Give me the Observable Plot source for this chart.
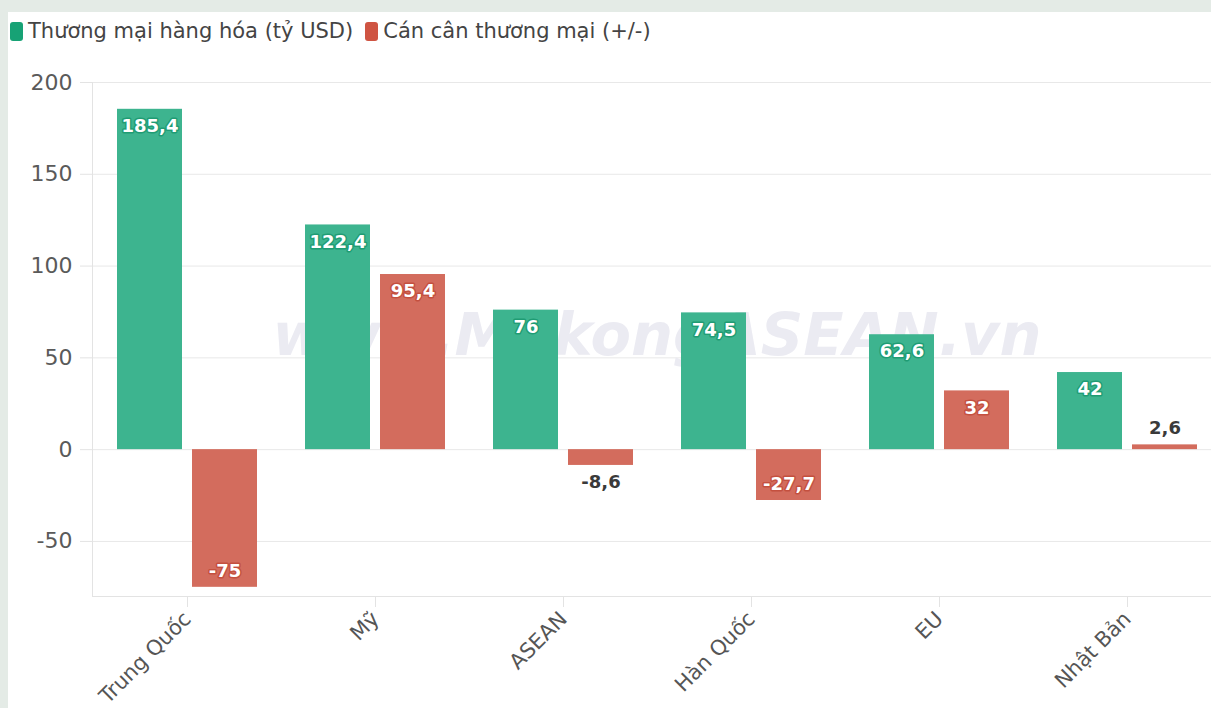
<!DOCTYPE html>
<html>
<head>
<meta charset="utf-8">
<script src="https://cdn.jsdelivr.net/npm/d3@7"></script>
<script src="https://cdn.jsdelivr.net/npm/@observablehq/plot@0.6"></script>
<style>
  html, body { margin: 0; padding: 0; width: 1211px; height: 708px; overflow: hidden; background: #e4ebe6; font-family: "DejaVu Sans", sans-serif; }
  #card { position: absolute; left: 8px; top: 12px; width: 1260px; height: 720px; background: #fff; }
  #legend { position: absolute; left: 10px; top: 19px; display: flex; align-items: center; font-size: 21px; color: #444; white-space: nowrap; }
  .sw { display: inline-block; width: 13px; height: 19px; border-radius: 3px; margin-right: 5px; }
  .item { display: flex; align-items: center; margin-right: 12px; }
  #chart { position: absolute; left: 0; top: 50px; width: 1240px; }
  #chart svg { max-width: none !important; }
</style>
</head>
<body>
<div id="card"></div>
<div id="legend">
  <span class="item"><span class="sw" style="background:#17a275"></span>Thương mại hàng hóa (tỷ USD)</span>
  <span class="item"><span class="sw" style="background:#cf5442"></span>Cán cân thương mại (+/-)</span>
</div>
<div id="chart"></div>
<script>
const categories = ["Trung Quốc", "Mỹ", "ASEAN", "Hàn Quốc", "EU", "Nhật Bản"];
const tradeValues = [185.4, 122.4, 76, 74.5, 62.6, 42];
const balanceValues = [-75, 95.4, -8.6, -27.7, 32, 2.6];
const yTicks = [-50, 0, 50, 100, 150, 200];

const trade = categories.map((c, i) => ({category: c, value: tradeValues[i]}));
const balance = categories.map((c, i) => ({category: c, value: balanceValues[i]}));
const fmt = v => String(v).replace(".", ",");
const small = d => Math.abs(d.value) < 15;

const font = "DejaVu Sans, sans-serif";
const labelOpts = {x: "category", y: "value", text: d => fmt(d.value), fontWeight: "bold", fontSize: 18};
const chart = Plot.plot({
  width: 1240,
  height: 658,
  marginLeft: 92,
  marginRight: 19,
  marginTop: 32,
  marginBottom: 112,
  style: {fontFamily: font, background: "transparent", maxWidth: "none"},
  x: {domain: categories, paddingInner: 0.257, paddingOuter: 0.1285, label: null},
  y: {domain: [-80, 200], label: null},
  marks: [
    Plot.gridY(yTicks, {stroke: "#e8e8e8", strokeOpacity: 1}),
    Plot.text(["www.MekongASEAN.vn"], {frameAnchor: "middle", fontSize: 59, fontWeight: "bold", fontStyle: "italic", fill: "#ebebf2", dy: -3}),
    Plot.frame({anchor: "left", stroke: "#e3e3e3", strokeOpacity: 1}),
    Plot.frame({anchor: "bottom", stroke: "#e3e3e3", strokeOpacity: 1}),
    Plot.axisY({ticks: yTicks, tickFormat: d => String(d), tickSize: 12, tickPadding: 8, stroke: "#e3e3e3", strokeOpacity: 1, fill: "#5a5a5a", fontSize: 22, label: null}),
    Plot.axisX({tickSize: 11, tickPadding: 8, tickRotate: -45, stroke: "#e3e3e3", strokeOpacity: 1, fill: "#555", fontSize: 21, label: null}),
    Plot.barY(trade, {x: "category", y: "value", insetRight: 75, fill: "#3db48f"}),
    Plot.barY(balance, {x: "category", y: "value", insetLeft: 75, fill: "#d36c5d"}),
    Plot.text(trade, {...labelOpts, dx: -37.5, dy: 17, fill: "white", stroke: "#1f9c74", strokeWidth: 3}),
    Plot.text(balance.filter(d => !small(d) && d.value > 0), {...labelOpts, dx: 37.5, dy: 17, fill: "white", stroke: "#c4503f", strokeWidth: 3}),
    Plot.text(balance.filter(d => !small(d) && d.value < 0), {...labelOpts, dx: 37.5, dy: -16, fill: "white", stroke: "#c4503f", strokeWidth: 3}),
    Plot.text(balance.filter(d => small(d) && d.value > 0), {...labelOpts, dx: 37.5, dy: -17, fill: "#3a3a3a"}),
    Plot.text(balance.filter(d => small(d) && d.value < 0), {...labelOpts, dx: 37.5, dy: 17, fill: "#3a3a3a"})
  ]
});
document.getElementById("chart").appendChild(chart);
</script>
</body>
</html>
